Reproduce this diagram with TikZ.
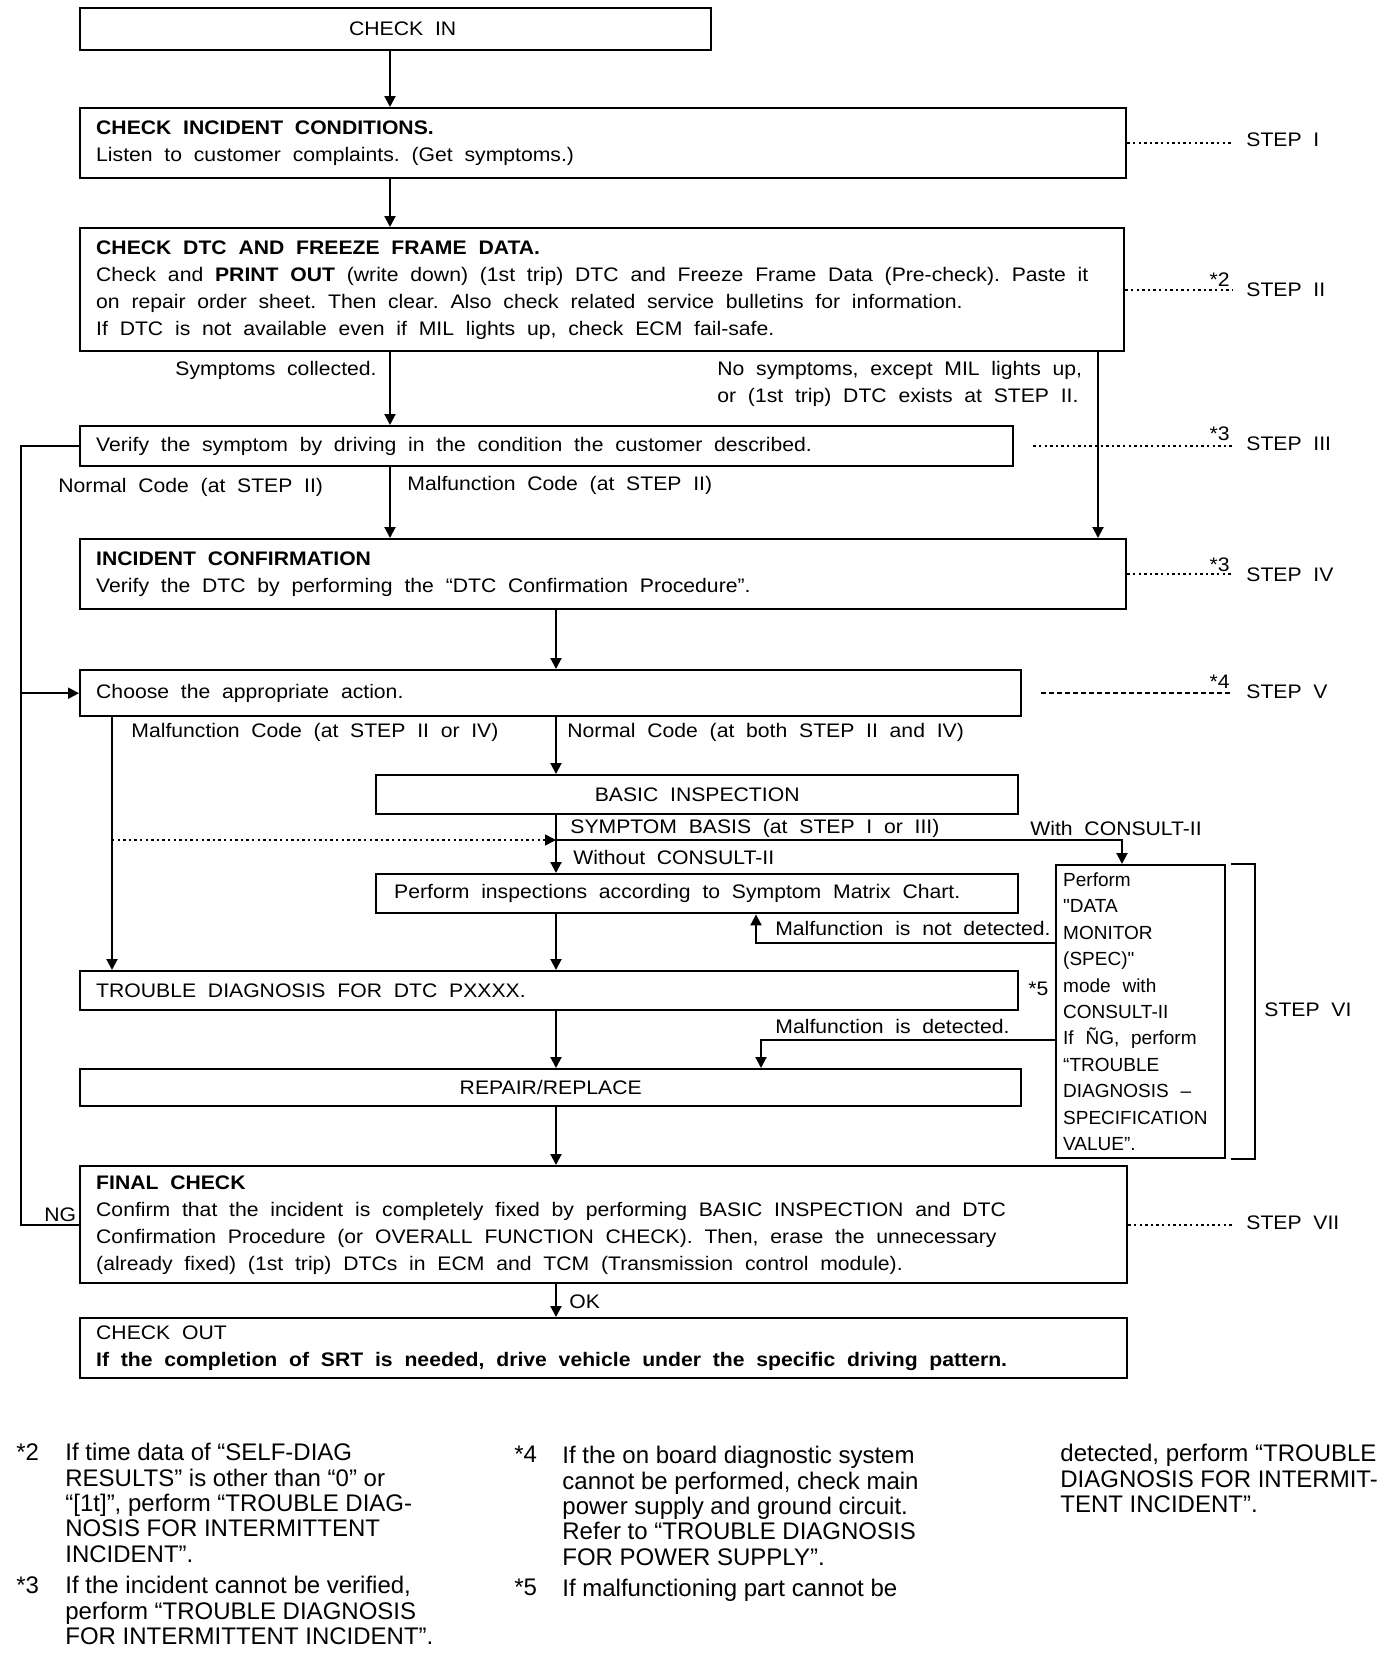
\documentclass[tikz,border=0pt]{standalone}
\usepackage{fontspec}
\setmainfont{Liberation Sans}
\newfontfamily\chartfont{Liberation Sans}[FakeStretch=1.08, WordSpace=2]
\newfontfamily\monfont{Liberation Sans}
\usetikzlibrary{arrows.meta, positioning, calc}
\setlength{\parindent}{0pt}
\frenchspacing

\begin{document}
\begin{tikzpicture}[
    x=0.5pt, y=-0.5pt,
    >={Triangle[length=5.5pt,width=5.5pt]},
    box/.style={
        draw, line width=1.2pt, anchor=north west,
        inner xsep=8pt, inner ysep=2pt,
        font=\chartfont\fontsize{9.8}{13.5}\selectfont,
        execute at begin node={\spaceskip=5.9pt plus 2pt minus 1pt\relax}
    },
    ctrbox/.style={box, align=center},
    lbl/.style={font=\chartfont\fontsize{9.8}{13.5}\selectfont, inner sep=0pt},
    steplbl/.style={lbl, anchor=west},
    notemark/.style={lbl, anchor=south east},
    flow/.style={->, line width=1pt},
    link/.style={line width=1pt},
    leader/.style={line width=0.8pt, dash pattern=on 1.2pt off 1.6pt},
    dashleader/.style={line width=0.8pt, dash pattern=on 2.4pt off 1.6pt},
    note/.style={font=\fontsize{12}{12.65}\selectfont, align=left,
        anchor=north west, inner sep=0pt},
]
\useasboundingbox (0,0) rectangle (1392,1654);

% ===================================================================
% Main column of boxes
% ===================================================================
\node[ctrbox, minimum width=315.5pt, minimum height=21pt] (checkin) at (79,7)
    {\hspace*{7pt}CHECK IN};

\node[box, minimum width=523pt, minimum height=35pt, text width=507pt] (incident) at (79,107)
    {\textbf{CHECK INCIDENT CONDITIONS.}\\
     Listen to customer complaints. (Get symptoms.)};

\node[box, minimum width=522pt, minimum height=61.5pt, text width=506pt] (dtc) at (79,227)
    {\textbf{CHECK DTC AND FREEZE FRAME DATA.}\\
     Check and \textbf{PRINT OUT} (write down) (1st trip) DTC and Freeze Frame Data (Pre-check). Paste it\\
     on repair order sheet. Then clear. Also check related service bulletins for information.\\
     If DTC is not available even if MIL lights up, check ECM fail-safe.};

\node[box, minimum width=466.5pt, minimum height=20pt, text width=450.5pt] (verify) at (79,425)
    {Verify the symptom by driving in the condition the customer described.};

\node[box, minimum width=523pt, minimum height=35pt, text width=507pt] (confirm) at (79,538)
    {\textbf{INCIDENT CONFIRMATION}\\
     Verify the DTC by performing the “DTC Confirmation Procedure”.};

\node[box, minimum width=470.5pt, minimum height=23pt, text width=454.5pt] (choose) at (79,669)
    {Choose the appropriate action.};

\node[ctrbox, minimum width=321pt, minimum height=19.5pt] (basic) at (375,774)
    {BASIC INSPECTION};

\node[box, minimum width=321pt, minimum height=19.5pt, text width=303pt, inner xsep=9pt] (perform) at (375,873)
    {Perform inspections according to Symptom Matrix Chart.};

\node[box, minimum width=469pt, minimum height=19.5pt, text width=453pt] (trouble) at (79,970)
    {TROUBLE DIAGNOSIS FOR DTC PXXXX.};

\node[ctrbox, minimum width=470.5pt, minimum height=18.5pt] (repair) at (79,1068)
    {REPAIR/REPLACE};

\node[box, minimum width=84.5pt, minimum height=146.5pt, text width=77.5pt,
      inner xsep=3.5pt, inner ysep=1pt,
      font=\monfont\fontsize{9.5}{13.2}\selectfont] (monitor) at (1055,864)
    {Perform\\ "DATA\\ MONITOR\\ (SPEC)"\\ mode with\\ CONSULT-II\\ If ÑG, perform\\
     “TROUBLE\\ DIAGNOSIS –\\ SPECIFICATION\\ VALUE”.};

\node[box, minimum width=523.5pt, minimum height=58.5pt, text width=507.5pt] (final) at (79,1165)
    {\textbf{FINAL CHECK}\\
     Confirm that the incident is completely fixed by performing BASIC INSPECTION and DTC\\
     Confirmation Procedure (or OVERALL FUNCTION CHECK). Then, erase the unnecessary\\
     (already fixed) (1st trip) DTCs in ECM and TCM (Transmission control module).};

\node[box, minimum width=523.5pt, minimum height=30pt, text width=507.5pt] (checkout) at (79,1317)
    {CHECK OUT\\
     \textbf{If the completion of SRT is needed, drive vehicle under the specific driving pattern.}};

% ===================================================================
% Connectors
% ===================================================================
\coordinate (lspine) at (390,0);
\coordinate (rspine) at (1098,0);
\coordinate (mspine) at (556,0);
\coordinate (mcode) at (112,0);
\coordinate (loopx) at (21,0);
\coordinate (consult) at (1122,0);
\coordinate (split) at (556,840);
\coordinate (notdet) at (756,943);
\coordinate (isdet) at (761,1040);

\draw[flow] (checkin.south -| lspine) -- (incident.north -| lspine);
\draw[flow] (incident.south -| lspine) -- (dtc.north -| lspine);
\draw[flow] (dtc.south -| lspine) -- (verify.north -| lspine);
\draw[flow] (verify.south -| lspine) -- (confirm.north -| lspine);
\draw[flow] (dtc.south -| rspine) -- (confirm.north -| rspine);
\draw[flow] (confirm.south -| mspine) -- (choose.north -| mspine);
\draw[flow] (choose.south -| mspine) -- (basic.north -| mspine);
\draw[flow] (basic.south -| mspine) -- (perform.north -| mspine);
\draw[flow] (perform.south -| mspine) -- (trouble.north -| mspine);
\draw[flow] (trouble.south -| mspine) -- (repair.north -| mspine);
\draw[flow] (repair.south -| mspine) -- (final.north -| mspine);
\draw[flow] (final.south -| mspine) -- (checkout.north -| mspine);
\draw[flow] (choose.south -| mcode) -- (trouble.north -| mcode);

% symptom basis branch
\draw[flow, leader] (split -| mcode) -- (split);
\draw[flow] (split) -| (monitor.north -| consult);

% data monitor results
\draw[flow] (monitor.west |- notdet) -| (perform.south -| notdet);
\draw[flow] (monitor.west |- isdet) -| (repair.north -| isdet);

% NG loop
\draw[link] (final.west) -| (loopx |- verify.west) -- (verify.west);
\draw[flow] (loopx |- choose.west) -- (choose.west);

% ===================================================================
% Branch labels
% ===================================================================
\node[lbl, anchor=east] (collected) at (377,370) {Symptoms collected.};
\node[lbl, anchor=west, align=left] (nosymptom) at (717,384)
    {No symptoms, except MIL lights up,\\or (1st trip) DTC exists at STEP II.};
\node[lbl, anchor=west] (normal2) at (58,487) {Normal Code (at STEP II)};
\node[lbl, anchor=west] (malf2) at (407,485) {Malfunction Code (at STEP II)};
\node[lbl, anchor=west] (malf24) at (131,732) {Malfunction Code (at STEP II or IV)};
\node[lbl, anchor=west] (normal24) at (567,732) {Normal Code (at both STEP II and IV)};
\node[lbl, anchor=west] (symbasis) at (570,828) {SYMPTOM BASIS (at STEP I or III)};
\node[lbl, anchor=west] (withc) at (1030,828) {With CONSULT-II};
\node[lbl, anchor=west] (withoutc) at (573,857) {Without CONSULT-II};
\node[lbl, anchor=east] (notdetlbl) at (1051,928) {Malfunction is not detected.};
\node[lbl, anchor=west] (star5) at (1028,989) {*5};
\node[lbl, anchor=west] (detlbl) at (775,1026) {Malfunction is detected.};
\node[lbl, anchor=west] (nglbl) at (44,1215) {NG};
\node[lbl, anchor=west] (oklbl) at (569,1302) {OK};

% ===================================================================
% Step markers
% ===================================================================
\coordinate (stepx) at (1232,0);
\draw[leader] (incident.east) -- (incident.east -| stepx);
\draw[leader] (dtc.east) -- (dtc.east -| stepx);
\draw[leader] ([xshift=9.5pt]verify.east) -- (verify.east -| stepx);
\draw[leader] (confirm.east) -- (confirm.east -| stepx);
\draw[dashleader] ([xshift=9.5pt]choose.east) -- (choose.east -| stepx);
\draw[leader] (final.east) -- (final.east -| stepx);

\node[notemark] (star2) at (1230,287) {*2};
\node[notemark] (star3a) at (1230,441) {*3};
\node[notemark] (star3b) at (1230,572) {*3};
\node[notemark] (star4) at (1230,689) {*4};

\node[steplbl] (step1) at (1246,140) {STEP I};
\node[steplbl] (step2) at (1246,290) {STEP II};
\node[steplbl] (step3) at (1246,444) {STEP III};
\node[steplbl] (step4) at (1246,575) {STEP IV};
\node[steplbl] (step5) at (1246,692) {STEP V};
\node[steplbl] (step7) at (1246,1223) {STEP VII};

% bracket for step VI
\draw[link] ([xshift=2.5pt]monitor.north east) -- ++(24,0) |- ([xshift=2.5pt]monitor.south east);
\node[steplbl] (step6) at (1264,1010) {STEP VI};

% ===================================================================
% Footnotes
% ===================================================================
\node[note] (n2mark) at (16,1443) {*2};
\node[note] (n2) at (65,1443)
    {If time data of “SELF-DIAG\\ RESULTS” is other than “0” or\\ “[1t]”, perform “TROUBLE DIAG-\\
     NOSIS FOR INTERMITTENT\\ INCIDENT”.};
\node[note] (n3mark) at (16,1576) {*3};
\node[note] (n3) at (65,1576)
    {If the incident cannot be verified,\\ perform “TROUBLE DIAGNOSIS\\ FOR INTERMITTENT INCIDENT”.};
\node[note] (n4mark) at (514,1446) {*4};
\node[note] (n4) at (562,1446)
    {If the on board diagnostic system\\ cannot be performed, check main\\ power supply and ground circuit.\\
     Refer to “TROUBLE DIAGNOSIS\\ FOR POWER SUPPLY”.};
\node[note] (n5mark) at (514,1579) {*5};
\node[note] (n5) at (562,1579) {If malfunctioning part cannot be};
\node[note] (n5cont) at (1060,1444)
    {detected, perform “TROUBLE\\ DIAGNOSIS FOR INTERMIT-\\ TENT INCIDENT”.};

\end{tikzpicture}
\end{document}
